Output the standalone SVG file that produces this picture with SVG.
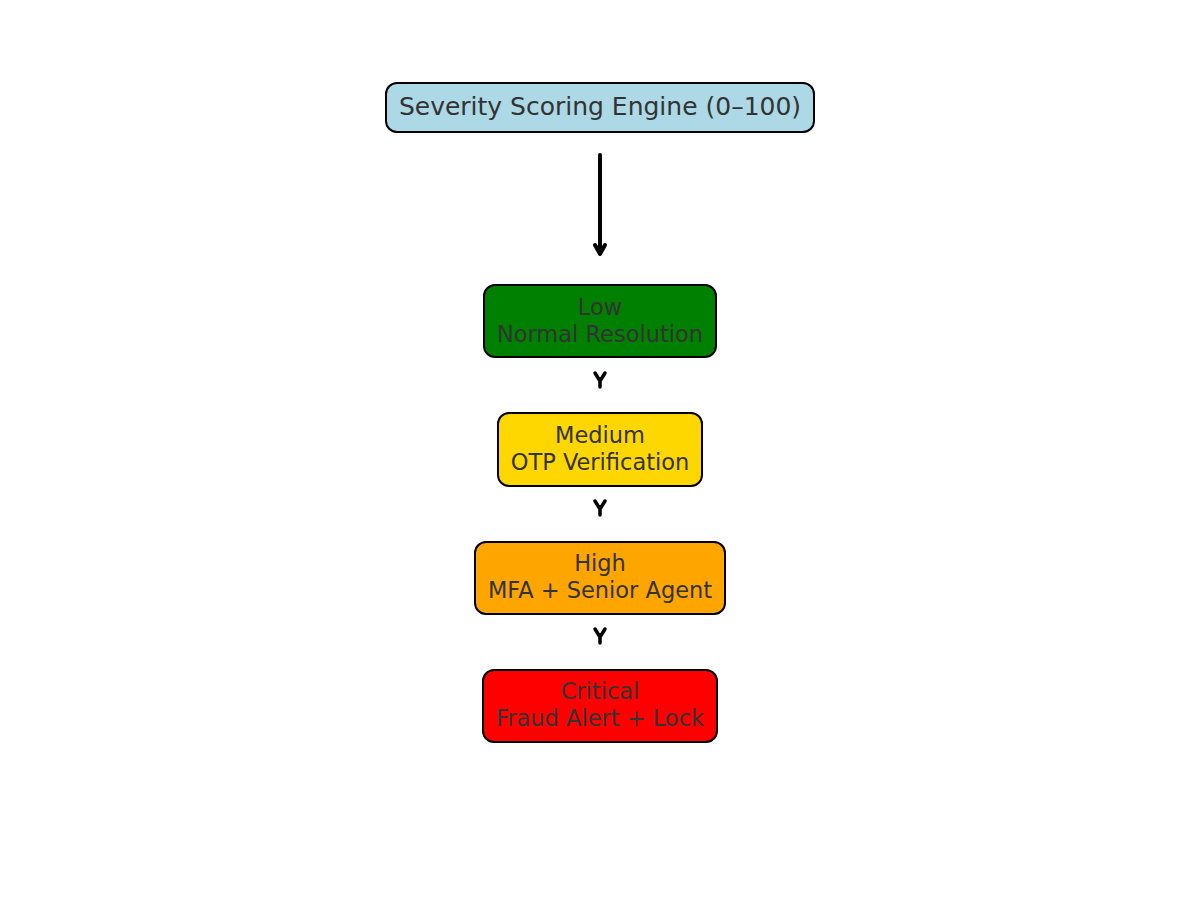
<svg xmlns="http://www.w3.org/2000/svg" width="1200" height="900" viewBox="0 0 1200 900">
<style>
.box{stroke:#000;stroke-width:2}
.t{font-family:"DejaVu Sans",sans-serif;fill:#333;text-anchor:middle}
.c{fill:none;stroke:#000;stroke-linecap:round;stroke-linejoin:round}
</style>
<rect width="1200" height="900" fill="#fff"/>
<g id="engine">
<rect class="box" x="386" y="83" width="428" height="49" rx="11" fill="#ADD8E6"/>
<text class="t" x="600" y="115" font-size="25">Severity Scoring Engine (0–100)</text>
</g>
<g id="low">
<rect class="box" x="484" y="285" width="232" height="72" rx="11" fill="#008000"/>
<text class="t" x="600" y="315" font-size="22.5">Low</text>
<text class="t" x="600" y="342" font-size="22.5">Normal Resolution</text>
</g>
<g id="medium">
<rect class="box" x="498" y="413" width="204" height="73" rx="11" fill="#FFD700"/>
<text class="t" x="600" y="443" font-size="22.5">Medium</text>
<text class="t" x="600" y="470" font-size="22.5">OTP Verification</text>
</g>
<g id="high">
<rect class="box" x="475" y="542" width="250" height="72" rx="11" fill="#FFA500"/>
<text class="t" x="600" y="571" font-size="22.5">High</text>
<text class="t" x="600" y="598" font-size="22.5">MFA + Senior Agent</text>
</g>
<g id="critical">
<rect class="box" x="483" y="670" width="234" height="72" rx="11" fill="#FF0000"/>
<text class="t" x="600" y="699" font-size="22.5">Critical</text>
<text class="t" x="600" y="726" font-size="22.5">Fraud Alert + Lock</text>
</g>
<g id="connectors">
<path class="c" stroke-width="4" d="M600,155 V254 M595,245 L600,254 L605,245"/>
<path class="c" stroke-width="3.5" d="M600,380 V387 M595,373 L600,381 L605,373"/>
<path class="c" stroke-width="3.5" d="M600,508 V515 M595,501 L600,509 L605,501"/>
<path class="c" stroke-width="3.5" d="M600,636 V643 M595,629 L600,637 L605,629"/>
</g>
</svg>
